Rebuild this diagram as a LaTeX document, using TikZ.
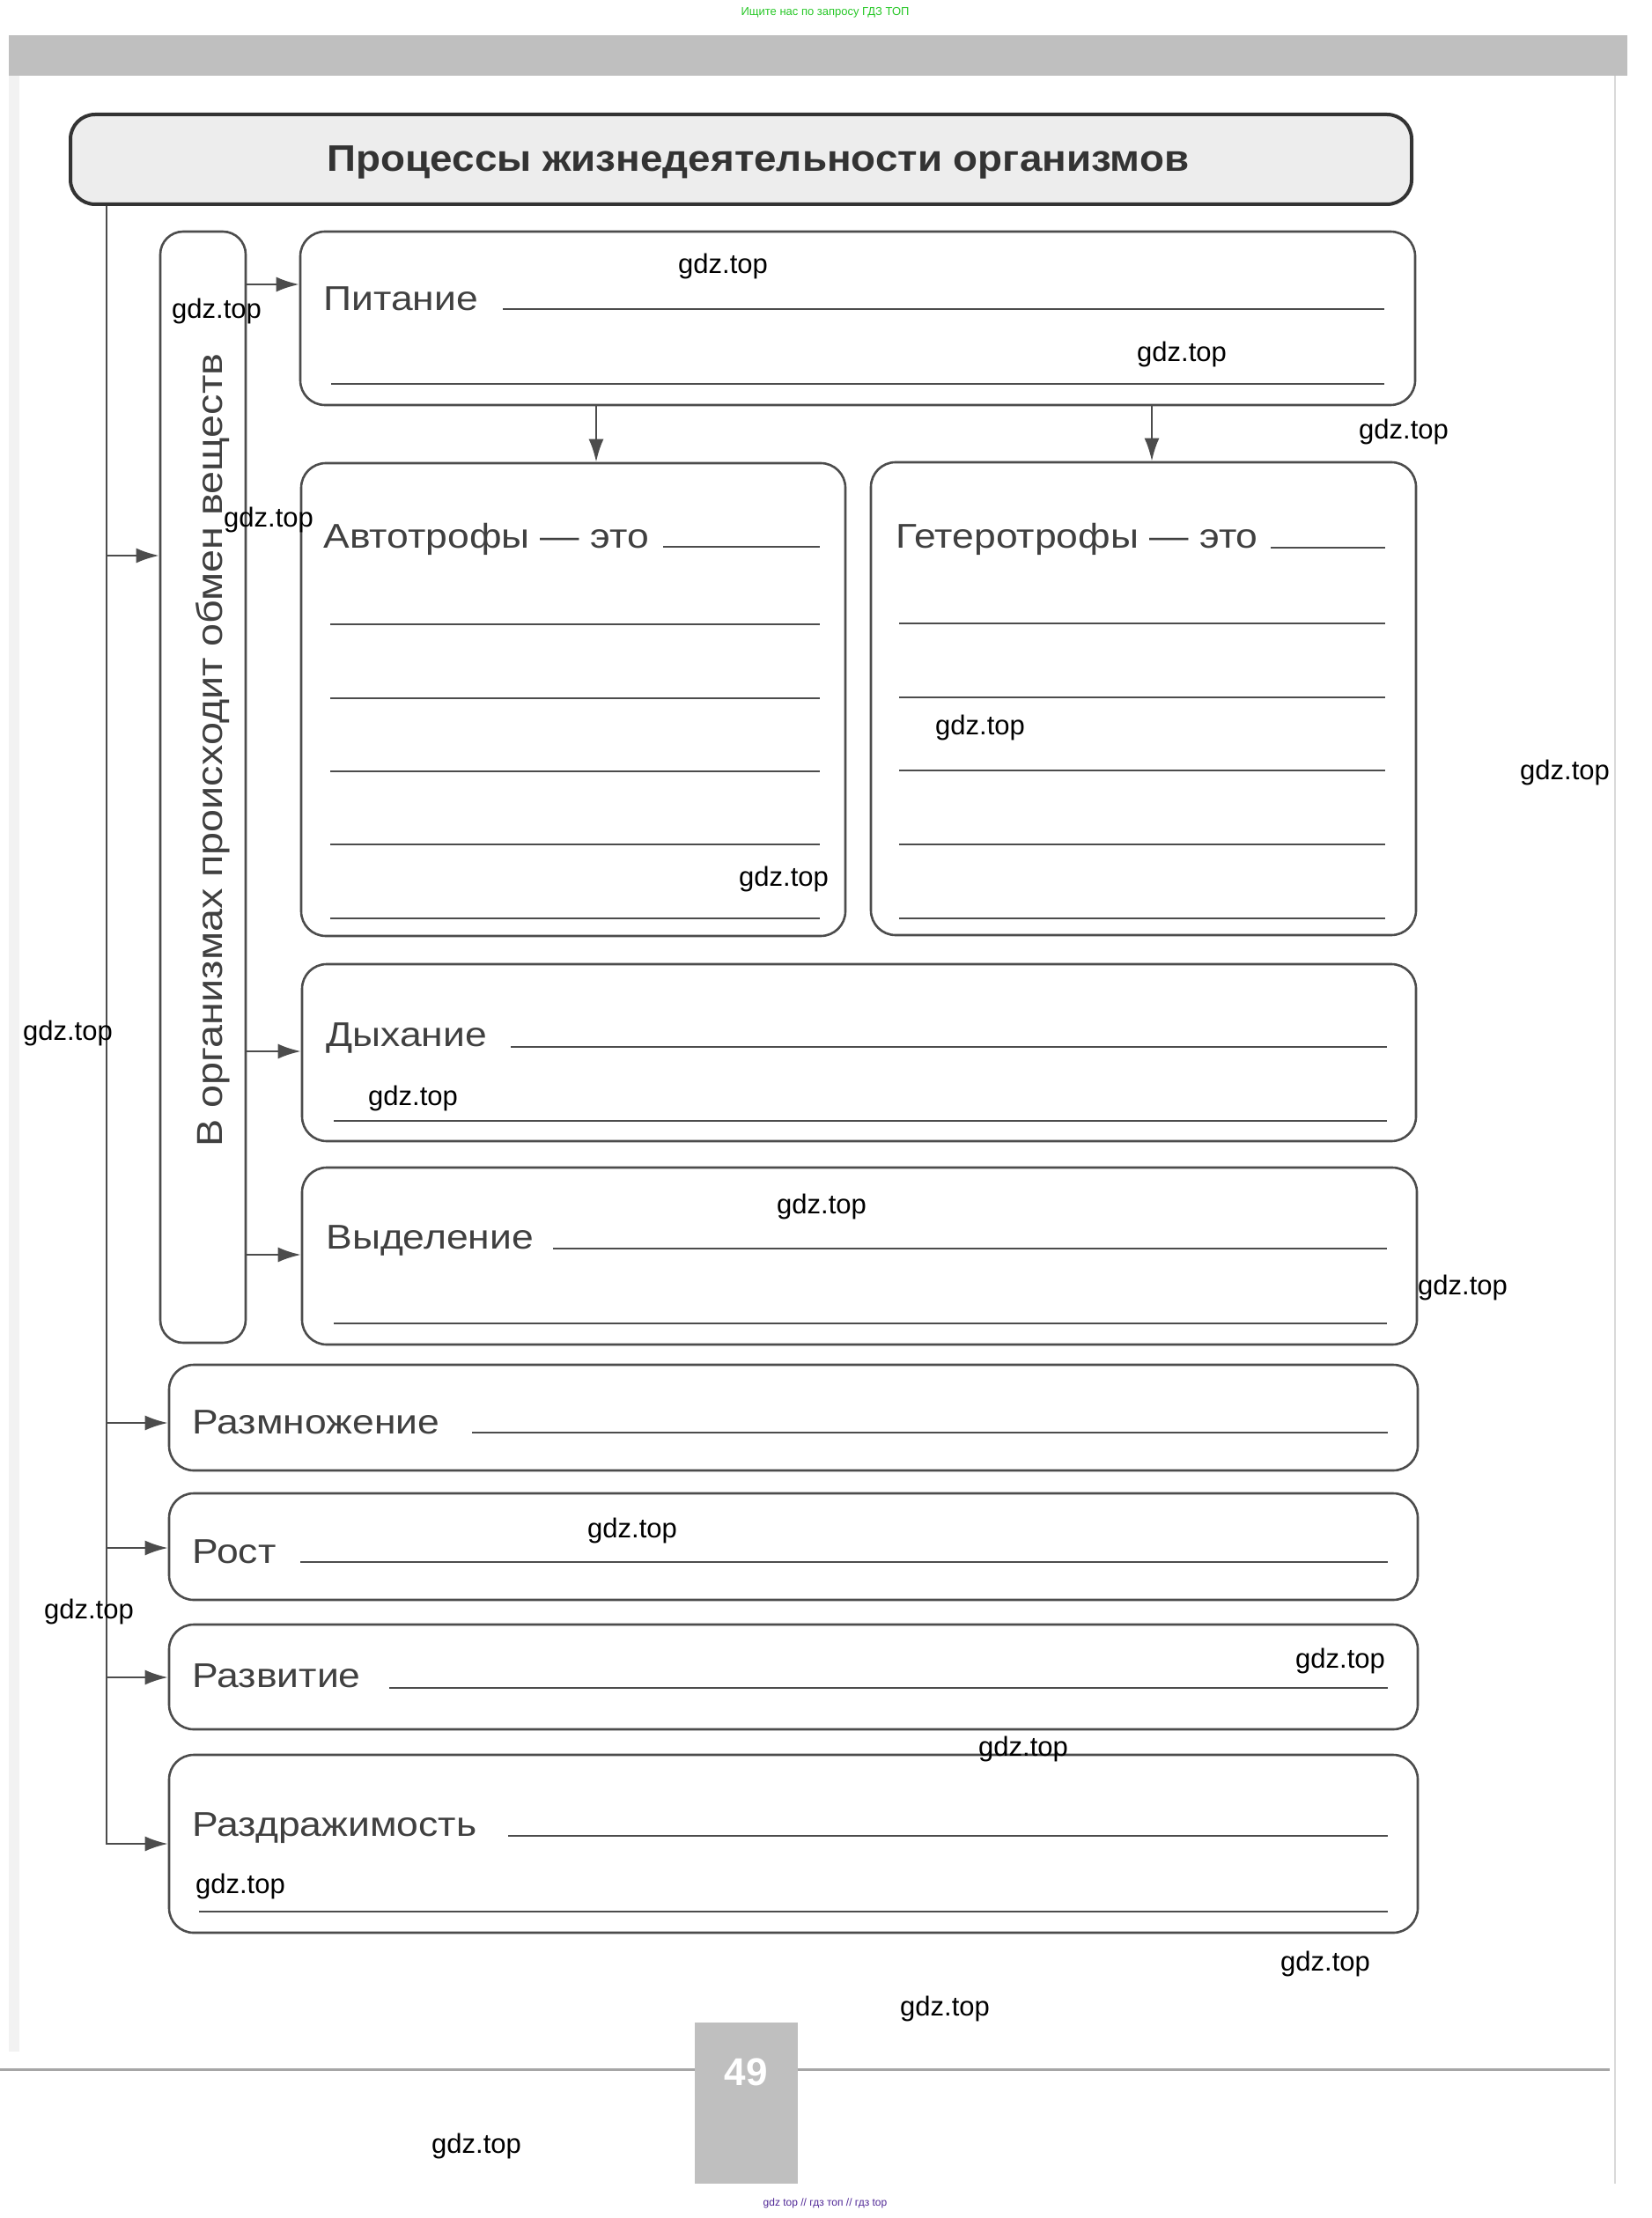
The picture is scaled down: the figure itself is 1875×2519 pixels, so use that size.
\documentclass[tikz,border=0pt]{standalone}
\usepackage{fontspec}
\setmainfont{Liberation Sans}[FakeStretch=1.14]
\newfontfamily\plainsans{Liberation Sans}
\newfontfamily\titlefont{Liberation Sans}[FakeStretch=1.09]
\usetikzlibrary{arrows.meta,fit}
\definecolor{ink}{gray}{0.3}
\definecolor{hdrgreen}{RGB}{40,200,40}
\definecolor{ftrpurple}{RGB}{80,40,150}
\begin{document}
\begin{tikzpicture}[x=0.5pt,y=-0.5pt,
  box/.style={draw=ink, line width=1.3pt, rounded corners=14pt, inner sep=0pt},
  arr/.style={draw=ink, line width=1.2pt, -{Latex[length=13pt,width=8.5pt]}},
  wline/.style={draw=ink, line width=1.1pt},
  lbl/.style={inner sep=0pt, anchor=base west, text=black!75, font=\fontsize{19.5pt}{23pt}\selectfont},
  wm/.style={inner sep=0pt, font=\plainsans\fontsize{15.5pt}{18pt}\selectfont, text=black}]
\useasboundingbox (0,0) rectangle (1875,2519);
\fill[white] (0,0) rectangle (1875,2519);
% page decoration
\fill[gray!50] (10,40) rectangle (1848,86);
\draw[gray!30, line width=1pt] (1834,86) -- (1834,2480);
\fill[gray!10] (10,86) rectangle (22,2330);
\node[text=hdrgreen, font=\plainsans\fontsize{6.5pt}{8pt}\selectfont] (hdr) at (937,14) {Ищите нас по запросу ГДЗ ТОП};
% boxes
\node[box, draw=black!80, line width=2pt, fill=gray!14, fit={(80,130) (1603,232)}] (title) {};
\node[inner sep=0pt, anchor=base, text=black!80, font=\titlefont\bfseries\fontsize{21pt}{24pt}\selectfont] (ttl) at (861,195) {Процессы жизнедеятельности организмов};
\node[box, rounded corners=13pt, fit={(182,263) (279,1525)}] (inner) {};
\node[inner sep=0pt, anchor=base, rotate=90, text=black!75, font=\fontsize{20.5pt}{23pt}\selectfont] (tinner) at (252,852) {В организмах происходит обмен веществ};
\node[box, fit={(341,263) (1607,460)}] (pit) {};
\node[box, fit={(342,526) (960,1063)}] (avto) {};
\node[box, fit={(989,525) (1608,1062)}] (get) {};
\node[box, fit={(343,1095) (1608,1296)}] (dyh) {};
\node[box, fit={(343,1326) (1609,1527)}] (vyd) {};
\node[box, fit={(192,1550) (1610,1670)}] (razm) {};
\node[box, fit={(192,1696) (1610,1817)}] (rost) {};
\node[box, fit={(192,1845) (1610,1964)}] (razv) {};
\node[box, fit={(192,1993) (1610,2195)}] (razd) {};
% labels
\node[lbl] (tpit) at (367,353) {Питание};
\node[lbl] (tavto) at (367,623) {Автотрофы — это};
\node[lbl] (tget) at (1017,623) {Гетеротрофы — это};
\node[lbl] (tdyh) at (370,1188) {Дыхание};
\node[lbl] (tvyd) at (370,1418) {Выделение};
\node[lbl] (trazm) at (218,1628) {Размножение};
\node[lbl] (trost) at (218,1775) {Рост};
\node[lbl] (trazv) at (218,1916) {Развитие};
\node[lbl] (trazd) at (218,2085) {Раздражимость};
% writing lines
\draw[wline] (571,351) -- (1572,351);
\draw[wline] (376,436) -- (1572,436);
\draw[wline] (753,621) -- (931,621);
\foreach \yy in {709,793,876,959,1043} \draw[wline] (375,\yy) -- (931,\yy);
\draw[wline] (1443,622) -- (1573,622);
\foreach \yy in {708,792,875,959,1043} \draw[wline] (1021,\yy) -- (1573,\yy);
\draw[wline] (580,1189) -- (1575,1189);
\draw[wline] (379,1273) -- (1575,1273);
\draw[wline] (628,1418) -- (1575,1418);
\draw[wline] (379,1503) -- (1575,1503);
\draw[wline] (536,1627) -- (1576,1627);
\draw[wline] (341,1774) -- (1576,1774);
\draw[wline] (442,1917) -- (1576,1917);
\draw[wline] (577,2085) -- (1576,2085);
\draw[wline] (226,2171) -- (1576,2171);
% connectors
\coordinate (trunk) at (title.south -| 121,0);
\draw[arr] (trunk) |- (razd.west |- 0,2094);
\draw[arr] (trunk |- 0,631) -- (inner.west |- 0,631);
\draw[arr] (trunk |- 0,1616) -- (razm.west |- 0,1616);
\draw[arr] (trunk |- 0,1758) -- (rost.west |- 0,1758);
\draw[arr] (trunk |- 0,1905) -- (razv.west |- 0,1905);
\draw[arr] (inner.east |- 0,323) -- (pit.west |- 0,323);
\draw[arr] (inner.east |- 0,1194) -- (dyh.west |- 0,1194);
\draw[arr] (inner.east |- 0,1425) -- (vyd.west |- 0,1425);
\draw[arr] (pit.south -| 677,0) -- (avto.north -| 677,0);
\draw[arr] (pit.south -| 1308,0) -- (get.north -| 1308,0);
% page footer
\draw[gray!70, line width=1.5pt] (0,2350) -- (1828,2350);
\node[fill=gray!50, inner sep=0pt, fit={(789,2297) (906,2480)}] (pgbox) {};
\node[text=white, inner sep=0pt, font=\plainsans\bfseries\fontsize{22pt}{24pt}\selectfont] (pgnum) at (847,2353) {49};
\node[text=ftrpurple, font=\plainsans\fontsize{6pt}{7pt}\selectfont] (ftr) at (937,2502) {gdz top // гдз топ // гдз top};
% watermarks
\foreach \wx/\wy [count=\i] in {821/302,246/353,1342/402,1594/490,305/590,1113/826,1777/877,890/998,77/1173,469/1247,933/1370,1661/1462,718/1738,101/1830,1522/1886,1162/1986,273/2142,1505/2230,1073/2281,541/2437}
  \node[wm] (wm\i) at (\wx,\wy) {gdz.top};
\end{tikzpicture}
\end{document}
